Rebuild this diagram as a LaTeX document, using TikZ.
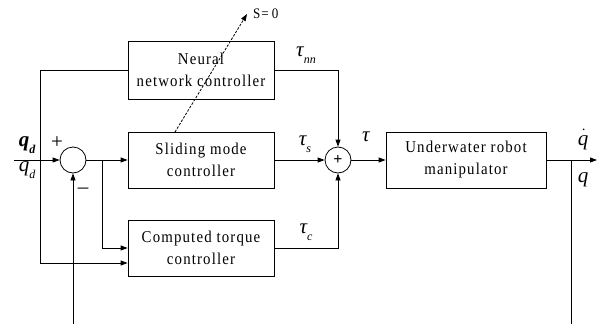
\documentclass[tikz,border=0pt]{standalone}
\usepackage{fontspec}
\setmainfont{Liberation Serif}[LetterSpace=7,FakeStretch=0.9]
\newfontfamily\labfont{Liberation Serif}
\usetikzlibrary{arrows.meta,calc}
\newcommand\lsub[1]{\raisebox{-0.32em}{\fontsize{12}{12}\selectfont #1}}
\tikzset{
  blk/.style={draw,line width=0.8pt,minimum width=146pt,align=center,inner sep=0pt,
    font=\fontsize{16.5}{22}\selectfont},
  sumc/.style={draw,circle,line width=0.8pt,minimum size=26pt,inner sep=0pt},
  conn/.style={line width=0.8pt},
  arr/.style={conn,-{Triangle[length=7pt,width=5pt]}},
  lab/.style={inner sep=0pt,font=\labfont\itshape\fontsize{21}{22}\selectfont},
  sgn/.style={inner sep=0pt,font=\labfont\fontsize{21}{22}\selectfont}
}
\begin{document}
\begin{tikzpicture}[x=1pt,y=-1pt]
\useasboundingbox (0,0) rectangle (604,324);
% blocks
\node[blk,minimum height=58pt] (nn) at (201,70) {Neural\\network controller};
\node[blk,minimum height=56pt] (sm) at (201,160) {Sliding mode\\controller};
\node[blk,minimum height=56pt] (ct) at (201,248) {Computed torque\\controller};
\node[blk,minimum width=160pt,minimum height=56pt] (uw) at (466,160) {Underwater robot\\manipulator};
\node[sumc] (s1) at (73,160) {};
\node[sumc] (s2) at (338,160) {\labfont\fontsize{16}{16}\selectfont\bfseries +};
% coordinates
\coordinate (qin) at (14,160);
\coordinate (vt) at (40,70);
\coordinate (vb) at (40,263);
\coordinate (br) at (102,160);
\coordinate (fb) at (73,324);
\coordinate (qout) at (597,160);
\coordinate (br2) at (571,160);
\coordinate (fb2) at (571,324);
\coordinate (sstart) at (175,132);
\coordinate (stip) at (247,14);
% connectors
\draw[arr] (qin) -- (s1.west);
\draw[conn] (nn.west) -- (vt) -- (vb);
\draw[arr] (vb) -- (vb -| ct.west);
\draw[arr] (s1.east) -- (sm.west);
\draw[arr] (br) |- (ct.west);
\draw[arr] (fb) -- (s1.south);
\draw[arr] (nn.east) -| (s2.north);
\draw[arr] (sm.east) -- (s2.west);
\draw[arr] (ct.east) -| (s2.south);
\draw[arr] (s2.east) -- (uw.west);
\draw[arr] (uw.east) -- (qout);
\draw[conn] (br2) -- (fb2);
\draw[conn,dashed,dash pattern=on 2.5pt off 1.5pt,-{Triangle[length=7pt,width=5pt]}] (sstart) -- (stip);
% labels
\node[anchor=west,inner sep=0pt,font=\fontsize{14.5}{16}\selectfont] (seq) at (253,14) {S=\hspace{3pt}0};
\node[lab,font=\labfont\bfseries\itshape\fontsize{21}{22}\selectfont] (lqd1) at (27,145) {q\lsub{d}};
\node[lab] (lqd2) at (27,170) {q\lsub{d}};
\node[sgn] (lp) at (57,143) {+};
\node[sgn] (lm) at (83,191) {–};
\node[lab] (ltnn) at (306,55) {τ\lsub{nn}};
\node[lab] (lts) at (305,144) {τ\lsub{s}};
\node[lab] (ltc) at (306,232) {τ\lsub{c}};
\node[lab] (lt) at (366,137) {τ};
\node[lab,anchor=south] (lqdot) at (583,150) {\makebox[0pt][l]{\raisebox{0.7em}{\hspace{0.22em}\fontsize{14}{14}\selectfont .}}q};
\node[lab,anchor=north] (lq) at (583,172) {q};
\end{tikzpicture}
\end{document}
